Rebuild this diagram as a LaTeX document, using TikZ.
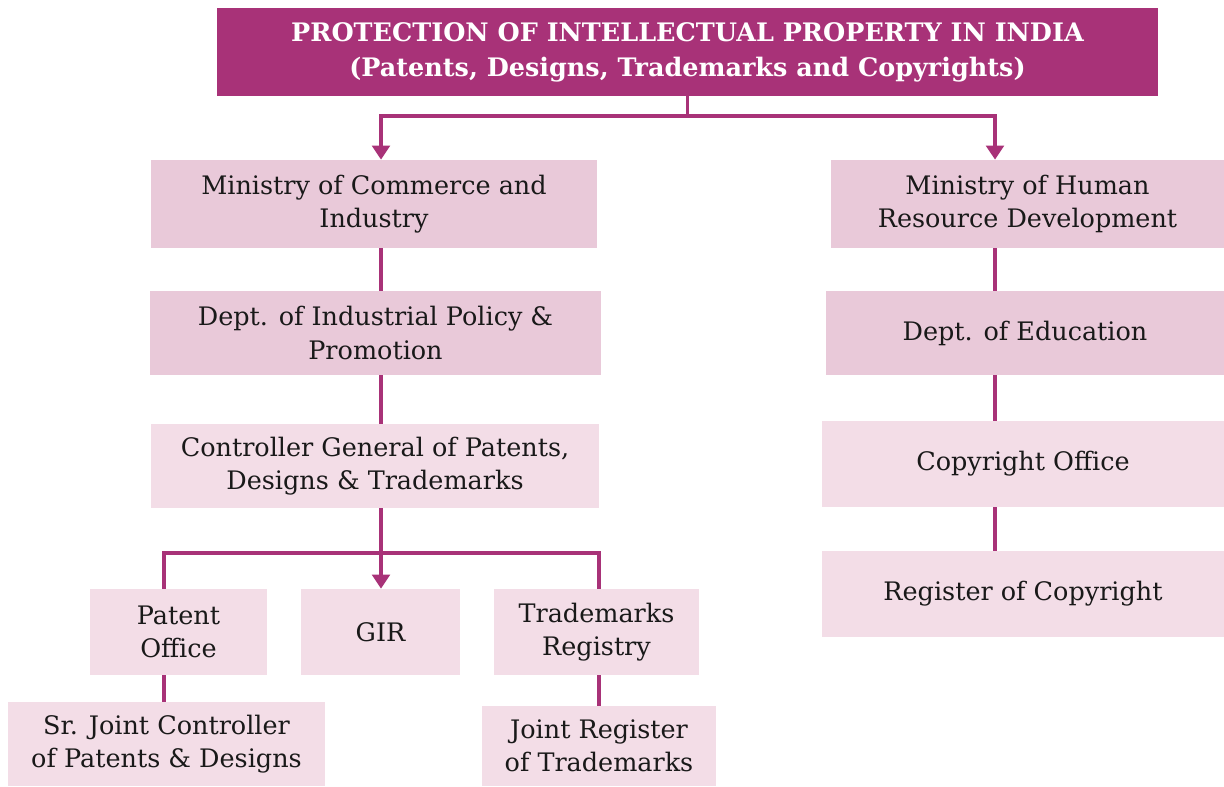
\documentclass[tikz,border=0pt]{standalone}
\usepackage{fontspec}
\setmainfont{DejaVu Serif}
\usetikzlibrary{arrows.meta,positioning,calc}
\definecolor{iprmagenta}{RGB}{168,50,120}
\definecolor{iprpink}{RGB}{233,201,217}
\definecolor{iprlight}{RGB}{243,221,231}
\begin{document}
\begin{tikzpicture}[
  box/.style={fill=iprpink, align=center, inner sep=0pt, font=\fontsize{14.5}{18.9}\selectfont, text=black!90},
  lbox/.style={box, fill=iprlight},
  link/.style={iprmagenta, line width=2pt},
  arr/.style={link, -{Triangle[width=10pt,length=8pt]}}
]
\useasboundingbox (0,0) rectangle (24.48,-15.72);

% === Title ===
\node[fill=iprmagenta, text=white, align=center, inner sep=0pt, minimum width=18.82cm, minimum height=1.76cm,
      font=\bfseries\fontsize{14.5}{20}\selectfont] (T) at (13.75,-1.04)
  {PROTECTION OF INTELLECTUAL PROPERTY IN INDIA\\(Patents, Designs, Trademarks and Copyrights)};

% spines
\coordinate (lx) at (7.62,0);
\coordinate (rx) at (19.9,0);
\coordinate (px) at (3.28,0);
\coordinate (tx) at (11.98,0);
\coordinate (tj) at (13.75,-2.32);
\coordinate (bj) at (7.62,-11.06);

% === Left branch: Commerce ===
\node[box, minimum width=8.92cm, minimum height=1.76cm] (C1) at (7.48,-4.08) {Ministry of Commerce and\\Industry};
\node[box, minimum width=9.02cm, minimum height=1.68cm] (C2) at (7.51,-6.66) {Dept. of Industrial Policy \&\\Promotion};
\node[lbox, minimum width=8.96cm, minimum height=1.68cm] (C3) at (7.50,-9.32) {Controller General of Patents,\\Designs \& Trademarks};

% offices
\node[lbox, minimum width=3.54cm, minimum height=1.72cm] (P) at (3.57,-12.64) {Patent\\Office};
\node[lbox, minimum width=3.18cm, minimum height=1.72cm] (G) at (7.61,-12.64) {GIR};
\node[lbox, minimum width=4.10cm, minimum height=1.72cm] (R) at (11.93,-12.64) {Trademarks\\Registry};
\node[lbox, minimum width=6.34cm, minimum height=1.68cm] (P2) at (3.33,-14.88) {Sr. Joint Controller\\of Patents \& Designs};
\node[lbox, minimum width=4.68cm, minimum height=1.60cm] (R2) at (11.98,-14.92) {Joint Register\\of Trademarks};

% === Right branch: HRD ===
\node[box, minimum width=7.86cm, minimum height=1.76cm] (H1) at (20.55,-4.08) {Ministry of Human\\Resource Development};
\node[box, minimum width=7.96cm, minimum height=1.68cm] (H2) at (20.50,-6.66) {Dept. of Education};
\node[lbox, minimum width=8.04cm, minimum height=1.72cm] (H3) at (20.46,-9.28) {Copyright Office};
\node[lbox, minimum width=8.04cm, minimum height=1.72cm] (H4) at (20.46,-11.88) {Register of Copyright};

% Connectors
\draw[link] (T.south) -- (tj);
\draw[arr] (tj) -| (H1.north -| rx);
\draw[arr] (tj) -| (C1.north -| lx);
\draw[link] (C1.south -| lx) -- (C2.north -| lx);
\draw[link] (C2.south -| lx) -- (C3.north -| lx);
\draw[arr] (C3.south -| lx) -- (G.north -| lx);
\draw[link] (P.north -| px) |- (bj) -| (R.north -| tx);
\draw[link] (P.south -| px) -- (P2.north -| px);
\draw[link] (R.south -| tx) -- (R2.north -| tx);
\draw[link] (H1.south -| rx) -- (H2.north -| rx);
\draw[link] (H2.south -| rx) -- (H3.north -| rx);
\draw[link] (H3.south -| rx) -- (H4.north -| rx);

\end{tikzpicture}
\end{document}
